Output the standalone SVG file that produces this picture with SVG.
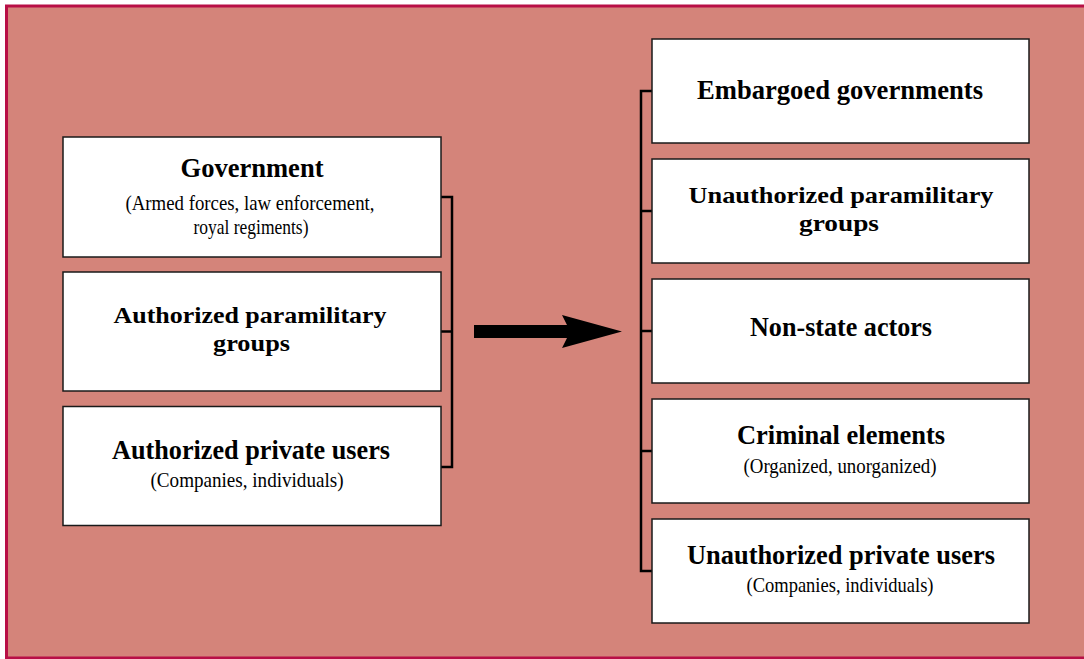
<svg xmlns="http://www.w3.org/2000/svg" width="1084" height="659" viewBox="0 0 1084 659">
<style>
.box{fill:#ffffff;stroke:#1a1a1a;stroke-width:1.5}
.h{font-family:"Liberation Serif","Times New Roman",serif;font-weight:bold;font-size:27px;fill:#000;text-anchor:middle}
.h2{font-family:"Liberation Serif","Times New Roman",serif;font-weight:bold;font-size:24px;fill:#000;text-anchor:middle}
.s{font-family:"Liberation Serif","Times New Roman",serif;font-size:22px;fill:#000;text-anchor:middle}
.br{fill:none;stroke:#000;stroke-width:2.5}
</style>
<rect x="0" y="0" width="1084" height="659" fill="#ffffff"/>
<rect x="6.5" y="6" width="1090" height="652" fill="#D4847A" stroke="#B80F46" stroke-width="3"/>

<g id="connectors">
  <polyline class="br" points="441,197 452,197 452,467 441,467"/>
  <line class="br" x1="441" y1="331.5" x2="452" y2="331.5"/>
  <polyline class="br" points="652,91 641,91 641,571 652,571"/>
  <line class="br" x1="641" y1="211" x2="652" y2="211"/>
  <line class="br" x1="641" y1="331" x2="652" y2="331"/>
  <line class="br" x1="641" y1="451" x2="652" y2="451"/>
  <polygon points="474,325 567,325 562,315 622,331.5 562,348 567,338 474,338" fill="#000"/>
</g>

<g id="government">
  <rect class="box" x="63" y="137" width="378" height="120"/>
  <text class="h" x="252" y="176.5" textLength="143" lengthAdjust="spacingAndGlyphs">Government</text>
  <text class="s" x="250" y="209.5" textLength="249" lengthAdjust="spacingAndGlyphs">(Armed forces, law enforcement,</text>
  <text class="s" x="251" y="234" textLength="115" lengthAdjust="spacingAndGlyphs">royal regiments)</text>
</g>
<g id="auth-paramilitary">
  <rect class="box" x="63" y="272" width="378" height="119"/>
  <text class="h2" x="250" y="322.5" textLength="273" lengthAdjust="spacingAndGlyphs">Authorized paramilitary</text>
  <text class="h2" x="251.5" y="350.5" textLength="77" lengthAdjust="spacingAndGlyphs">groups</text>
</g>
<g id="auth-private">
  <rect class="box" x="63" y="406.5" width="378" height="119"/>
  <text class="h" x="251" y="458.5" textLength="278" lengthAdjust="spacingAndGlyphs">Authorized private users</text>
  <text class="s" x="247" y="486.5" textLength="193" lengthAdjust="spacingAndGlyphs">(Companies, individuals)</text>
</g>

<g id="embargoed">
  <rect class="box" x="652" y="39" width="377" height="104"/>
  <text class="h" x="840" y="98.5" textLength="286" lengthAdjust="spacingAndGlyphs">Embargoed governments</text>
</g>
<g id="unauth-paramilitary">
  <rect class="box" x="652" y="159" width="377" height="104"/>
  <text class="h2" x="841" y="202.5" textLength="305" lengthAdjust="spacingAndGlyphs">Unauthorized paramilitary</text>
  <text class="h2" x="839" y="231" textLength="80" lengthAdjust="spacingAndGlyphs">groups</text>
</g>
<g id="non-state">
  <rect class="box" x="652" y="279" width="377" height="104"/>
  <text class="h" x="841" y="336" textLength="182" lengthAdjust="spacingAndGlyphs">Non-state actors</text>
</g>
<g id="criminal">
  <rect class="box" x="652" y="399" width="377" height="104"/>
  <text class="h" x="841" y="443.5" textLength="208" lengthAdjust="spacingAndGlyphs">Criminal elements</text>
  <text class="s" x="840" y="473" textLength="193" lengthAdjust="spacingAndGlyphs">(Organized, unorganized)</text>
</g>
<g id="unauth-private">
  <rect class="box" x="652" y="519" width="377" height="104"/>
  <text class="h" x="841" y="563.5" textLength="308" lengthAdjust="spacingAndGlyphs">Unauthorized private users</text>
  <text class="s" x="840" y="591.5" textLength="187" lengthAdjust="spacingAndGlyphs">(Companies, individuals)</text>
</g>
</svg>
